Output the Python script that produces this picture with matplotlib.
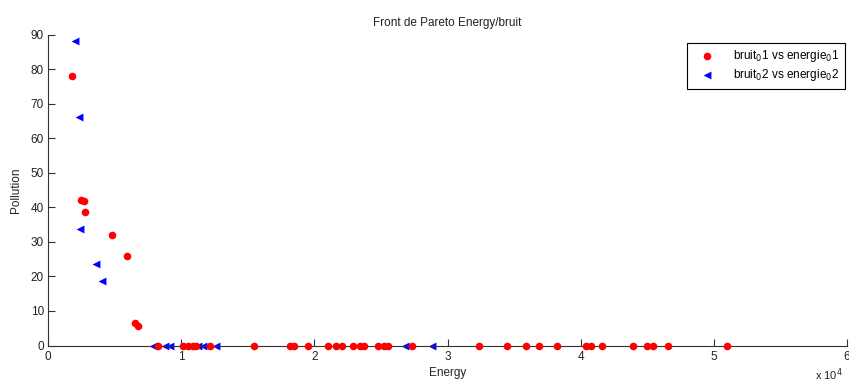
import matplotlib
matplotlib.use("Agg")
import matplotlib.pyplot as plt
from matplotlib.ticker import FuncFormatter

# serie 1 (rouge)
energie_1 = [1800, 2475, 2675, 2800, 4800, 5950, 6550, 6750,
             8270, 10150, 10500, 10900, 11150, 12150, 15450, 18200, 18500,
             19500, 21000, 21600, 22100, 22900, 23400, 23700, 24800, 25200,
             25500, 27300, 32400, 34500, 35900, 36900, 38200, 40400, 40800,
             41600, 43900, 44950, 45450, 46550, 51000]
bruit_1 = [78, 42.1, 41.7, 38.7, 31.9, 26, 6.6, 5.5,
           0, 0, 0, 0, 0, 0, 0, 0, 0, 0, 0, 0, 0, 0, 0, 0, 0, 0, 0,
           0, 0, 0, 0, 0, 0, 0, 0, 0, 0, 0, 0, 0, 0]

# serie 2 (bleu)
energie_2 = [2050, 2350, 2425, 3625, 4025,
             7900, 8770, 9150, 11270, 11650, 12600, 26800, 28850]
bruit_2 = [88.2, 66.2, 33.6, 23.6, 18.7,
           0, 0, 0, 0, 0, 0, 0, 0]

xticks = [0, 10000, 20000, 30000, 40000, 50000, 60000]
yticks = [0, 10, 20, 30, 40, 50, 60, 70, 80, 90]

plt.rcParams['font.family'] = ['Liberation Sans', 'DejaVu Sans']

fig = plt.figure(figsize=(8.49, 3.83), dpi=100)
ax = fig.add_axes([48/849, 1 - 345.5/383, 799/849, 311/383])

ax.scatter(energie_1, bruit_1, s=30, c='#ff0000', marker='o', linewidths=0,
           zorder=3, clip_on=False, label='bruit$_0$1 vs energie$_0$1')
ax.scatter(energie_2, bruit_2, s=32, c='#0000ff', marker='<', linewidths=0,
           zorder=2, clip_on=False, label='bruit$_0$2 vs energie$_0$2')

ax.set_xlim(0, 60000)
ax.set_ylim(0, 90)
ax.set_xticks(xticks)
ax.set_yticks(yticks)
ax.xaxis.set_major_formatter(FuncFormatter(lambda v, p: '%d' % round(v / 1e4)))

for s in ['top', 'right']:
    ax.spines[s].set_visible(False)
for s in ['left', 'bottom']:
    ax.spines[s].set_color('#333333')
    ax.spines[s].set_linewidth(0.8)
ax.tick_params(direction='in', length=5, width=0.8, color='#333333',
               labelsize=8.5, labelcolor='#222222')
ax.tick_params(axis='x', pad=4)
ax.tick_params(axis='y', pad=3)

ax.set_title("Front de Pareto Energy/bruit", fontsize=8.5, pad=6, color='#222222')
ax.set_xlabel("Energy", fontsize=8.5, labelpad=3, color='#222222')
ax.set_ylabel("Pollution", fontsize=8.5, labelpad=6, color='#222222')
fig.text(815/849, 1 - 375/383, r'x 10$^4$', fontsize=8, color='#222222',
         va='center', ha='left')

leg = ax.legend(loc='upper right', bbox_to_anchor=(845/849, 1 - 43/383),
                bbox_transform=fig.transFigure, borderaxespad=0,
                fancybox=False, edgecolor='black', fontsize=8.5,
                handletextpad=0.9, borderpad=0.45, labelspacing=0.25,
                handlelength=2.6, framealpha=1)
leg.get_frame().set_linewidth(0.8)

fig.savefig("out.png", dpi=100)
